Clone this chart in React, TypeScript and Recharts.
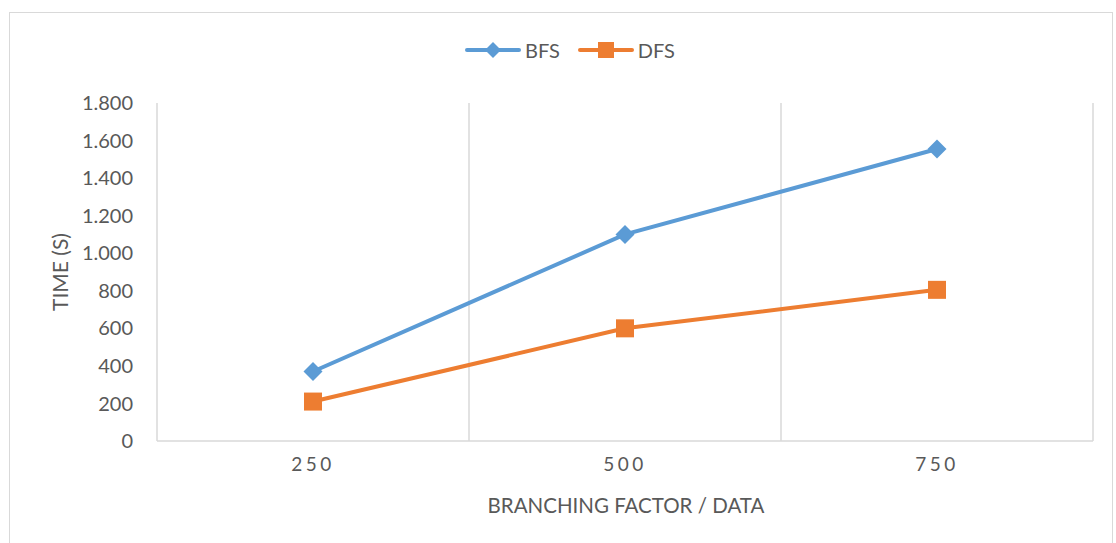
import React from 'react';
import {
  LineChart,
  Line,
  XAxis,
  YAxis,
  Legend,
  ReferenceLine,
} from 'recharts';

// Branching factor categories and measured times (s)
const categories = ['250', '500', '750'];
const bfsTimes = [370, 1100, 1555];
const dfsTimes = [210, 600, 805];
const yTicks = [0, 200, 400, 600, 800, 1000, 1200, 1400, 1600, 1800];

const BLUE = '#5B9BD5';
const ORANGE = '#ED7D31';
const GRID = '#D9D9D9';
const TEXT = '#595959';
const FONT = 'Lato, "Open Sans", sans-serif';

// numeric x so grid lines can sit between categories
const data = categories.map((c, i) => ({
  x: i + 0.5,
  label: c,
  BFS: bfsTimes[i],
  DFS: dfsTimes[i],
}));
const xTicks = data.map((d) => d.x);
const boundaries = [0, 1, 2, 3];

const formatThousands = (v: number) =>
  v >= 1000 ? `${Math.floor(v / 1000)}.${String(v % 1000).padStart(3, '0')}` : String(v);

const Diamond = (props: any) => {
  const { cx, cy } = props;
  if (cx == null || cy == null) return null;
  const r = 9.5;
  return (
    <path
      d={`M${cx},${cy - r}L${cx + r},${cy}L${cx},${cy + r}L${cx - r},${cy}Z`}
      fill={BLUE}
    />
  );
};

const Square = (props: any) => {
  const { cx, cy } = props;
  if (cx == null || cy == null) return null;
  const s = 9;
  return <rect x={cx - s} y={cy - s} width={s * 2} height={s * 2} fill={ORANGE} />;
};

const LegendContent = () => (
  <div
    style={{
      display: 'flex',
      justifyContent: 'center',
      alignItems: 'center',
      fontFamily: FONT,
      fontSize: 20,
      lineHeight: '24px',
      height: 24,
      paddingLeft: 24,
      color: TEXT,
    }}
  >
    <svg width={56} height={20} style={{ marginRight: 4 }}>
      <line x1={2} y1={10} x2={54} y2={10} stroke={BLUE} strokeWidth={4} strokeLinecap="round" />
      <path d="M28,2L36,10L28,18L20,10Z" fill={BLUE} />
    </svg>
    <span style={{ marginRight: 18 }}>BFS</span>
    <svg width={56} height={20} style={{ marginRight: 4 }}>
      <line x1={2} y1={10} x2={54} y2={10} stroke={ORANGE} strokeWidth={4} strokeLinecap="round" />
      <rect x={20} y={2} width={16} height={16} fill={ORANGE} />
    </svg>
    <span>DFS</span>
  </div>
);

export default function App() {
  return (
    <div style={{ position: 'absolute', left: 0, top: 0, width: 1116, height: 543, background: '#fff' }}>
      <div
        style={{
          position: 'absolute',
          left: 9,
          top: 12,
          width: 1104,
          height: 540,
          border: `1.5px solid ${GRID}`,
          boxSizing: 'border-box',
        }}
      />
      <LineChart
        width={1116}
        height={543}
        data={data}
        margin={{ top: 79, right: 23, bottom: 30, left: 0 }}
        style={{ position: 'absolute', left: 0, top: 0 }}
      >
        <Legend
          verticalAlign="top"
          content={<LegendContent />}
          wrapperStyle={{ top: 38, left: 0, width: 1116, height: 24 }}
        />
        <XAxis
          dataKey="x"
          type="number"
          domain={[0, 3]}
          ticks={xTicks}
          tickFormatter={(v: number) => categories[Math.floor(v)]}
          height={72}
          tickSize={0}
          tickMargin={17}
          axisLine={{ stroke: GRID, strokeWidth: 1.5 }}
          tick={{ fill: TEXT, fontSize: 19, fontFamily: FONT, letterSpacing: 3.5 }}
          label={{
            content: () => (
              <text x={626} y={505} textAnchor="middle" dominantBaseline="central" fill={TEXT} fontSize={20.5} fontFamily={FONT}>
                BRANCHING FACTOR / DATA
              </text>
            ),
          }}
        />
        <YAxis
          domain={[0, 1800]}
          ticks={yTicks}
          width={157}
          tickSize={0}
          tickMargin={24}
          axisLine={false}
          tickFormatter={formatThousands}
          tick={{ fill: TEXT, fontSize: 20, fontFamily: FONT }}
          label={{
            content: () => (
              <text
                x={59}
                y={272}
                transform="rotate(-90 59 272)"
                textAnchor="middle"
                dominantBaseline="central"
                fill={TEXT}
                fontSize={21}
                fontFamily={FONT}
              >
                TIME (S)
              </text>
            ),
          }}
        />
        {boundaries.map((b) => (
          <ReferenceLine key={b} x={b} stroke={GRID} strokeWidth={1.5} />
        ))}
        <Line
          dataKey="BFS"
          stroke={BLUE}
          strokeWidth={4}
          dot={<Diamond />}
          activeDot={false}
          isAnimationActive={false}
        />
        <Line
          dataKey="DFS"
          stroke={ORANGE}
          strokeWidth={4}
          dot={<Square />}
          activeDot={false}
          isAnimationActive={false}
        />
      </LineChart>
    </div>
  );
}
